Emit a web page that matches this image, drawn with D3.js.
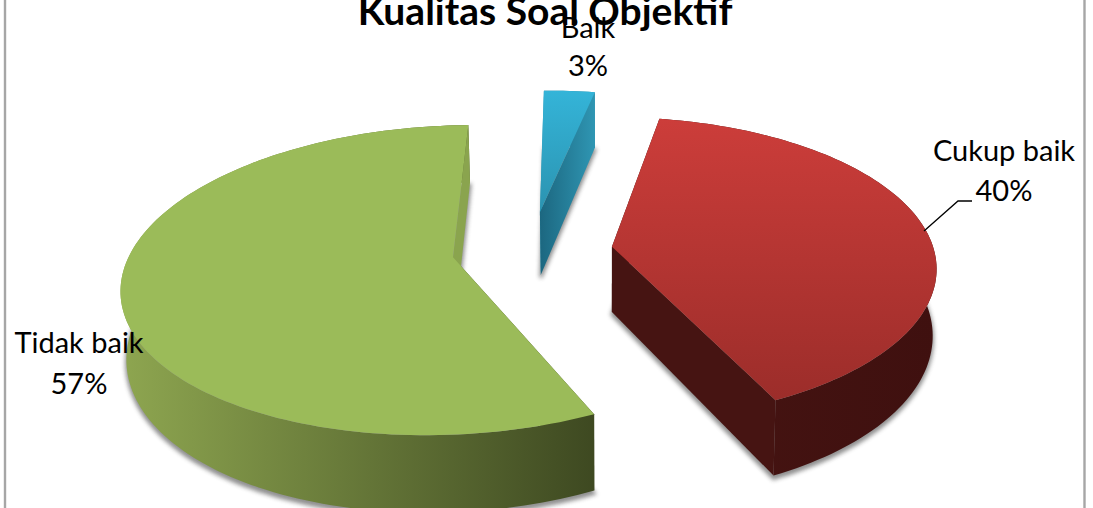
<!DOCTYPE html>
<html>
<head>
<meta charset="utf-8">
<script src="https://cdnjs.cloudflare.com/ajax/libs/d3/7.8.5/d3.min.js"></script>
<style>
html,body{margin:0;padding:0;background:#fff;overflow:hidden}
svg{display:block}
text{font-family:Lato,"Noto Sans",sans-serif;fill:#000}
</style>
</head>
<body>
<svg id="c" width="1093" height="508"></svg>
<script>
const title = "Kualitas Soal Objektif";
const categories = ["Baik", "Cukup baik", "Tidak baik"];
const values = [3, 40, 57];
const percentLabels = ["3%", "40%", "57%"];

const topColors  = [["#34b4d8", "#2b93b0"], ["#cc3d3a", "#9c2d2a"], ["#9bbb59", "#9bbb59"]];
const wallColors = [["#1c6780", "#2f96b3"], ["#461412", "#3f100f"], ["#8ea650", "#3e4921"]];
const explode = [[-0.226, -0.197], [0.006, 0.045], [-0.484, 0.115]];
const labelPos = [[588, 38, 76], [1004, 161, 201], [79, 353, 394]];

const W = 1093, H = 508;
const x0 = 610, y0 = 240, C = 319, A = 146.6, B = 0.146, D = 65, CONV = 0.012;
const ROT = -Math.PI / 180;

const svg = d3.select("#c");
const defs = svg.append("defs");
defs.append("filter").attr("id", "shadow")
  .attr("x", "-10%").attr("y", "-10%").attr("width", "120%").attr("height", "120%")
  .append("feGaussianBlur").attr("stdDeviation", 2.2);

function proj(X, Y, z) {
  const w = 1 - B * Y;
  const px = x0 + C * X / w;
  return [px + (x0 - px) * CONV * z, y0 + A * Y / w + z * D / w];
}
const line = d3.line();
const pie = d3.pie().sort(null).startAngle(ROT).endAngle(2 * Math.PI + ROT);
const arcs = pie(values);

function grad(id, cols, horiz) {
  const g = defs.append("linearGradient").attr("id", id)
    .attr("x1", 0).attr("y1", 0).attr("x2", horiz ? 1 : 0).attr("y2", horiz ? 0 : 1);
  g.append("stop").attr("offset", 0).attr("stop-color", cols[0]);
  g.append("stop").attr("offset", 1).attr("stop-color", cols[1]);
}

// frame
svg.append("line").attr("x1", 5).attr("x2", 5).attr("y1", 0).attr("y2", H).attr("stroke", "#a6a6a6").attr("stroke-width", 2.4);
svg.append("line").attr("x1", 1084.5).attr("x2", 1084.5).attr("y1", 0).attr("y2", H).attr("stroke", "#a6a6a6").attr("stroke-width", 2.4);

svg.append("text").attr("x", 545).attr("y", 25).attr("text-anchor", "middle")
  .attr("font-weight", 700).attr("font-size", 39).text(title);

const order = [2, 1, 0];
order.forEach(i => {
  const a = arcs[i], off = explode[i];
  const n = Math.max(8, Math.ceil((a.endAngle - a.startAngle) * 40));
  const angles = d3.range(n + 1).map(k => a.startAngle + (a.endAngle - a.startAngle) * k / n);
  const rim = z => angles.map(t => proj(off[0] + Math.sin(t), off[1] - Math.cos(t), z));
  const apex = z => proj(off[0], off[1], z);
  const edge = (t) => [proj(off[0], off[1], 0), proj(off[0] + Math.sin(t), off[1] - Math.cos(t), 0),
                       proj(off[0] + Math.sin(t), off[1] - Math.cos(t), 1), proj(off[0], off[1], 1)];
  grad("top" + i, topColors[i], false);
  grad("wall" + i, wallColors[i], true);
  const g = svg.append("g");
  // blurred ground shadow
  g.append("path").attr("d", line([apex(1.04), ...rim(1.04)]) + "Z")
    .attr("fill", "#555").attr("stroke", "#555").attr("stroke-width", 3)
    .attr("opacity", 0.65).attr("filter", "url(#shadow)");
  // start cut face
  g.append("path").attr("d", line(edge(a.startAngle)) + "Z").attr("fill", wallColors[i][1]);
  // outer wall
  g.append("path").attr("d", line([...rim(0), ...rim(1).reverse()]) + "Z").attr("fill", "url(#wall" + i + ")");
  // end cut face
  g.append("path").attr("d", line(edge(a.endAngle)) + "Z").attr("fill", i === 0 ? "url(#wall0)" : i === 2 ? "#8aa44e" : wallColors[i][0]);
  // top surface
  g.append("path").attr("d", line([apex(0), ...rim(0)]) + "Z").attr("fill", "url(#top" + i + ")");
});

// leader line
svg.append("path").attr("d", line([[924, 231], [958, 201], [972, 201]]))
  .attr("fill", "none").attr("stroke", "#000").attr("stroke-width", 1.3);

categories.forEach((c, i) => {
  const p = labelPos[i];
  svg.append("text").attr("x", p[0]).attr("y", p[1]).attr("text-anchor", "middle").attr("font-size", 29).text(c);
  svg.append("text").attr("x", p[0]).attr("y", p[2]).attr("text-anchor", "middle").attr("font-size", 29).text(percentLabels[i]);
});
</script>
</body>
</html>
